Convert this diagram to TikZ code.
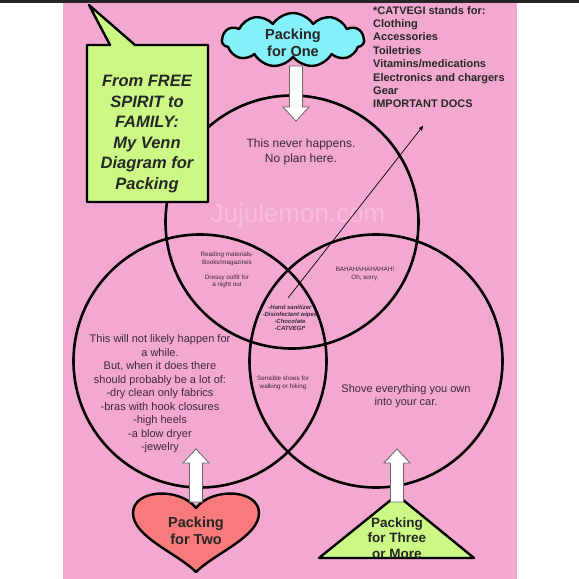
\documentclass[tikz,border=0pt]{standalone}
\usepackage{fontspec}
\setmainfont{Liberation Sans}
\usetikzlibrary{arrows,positioning,shapes.symbols}
\definecolor{rosa}{HTML}{F3A8D0}
\definecolor{lime}{HTML}{CCF986}
\definecolor{sky}{HTML}{84F0FA}
\definecolor{salmon}{HTML}{F87A7A}
\definecolor{ink}{HTML}{3A2838}
\definecolor{wmark}{HTML}{F7BCDB}
\tikzset{
    %Define standard arrow tip
    >=stealth',
    %Define style for the three circles
    venn/.style={
           circle,
           draw=black,
           line width=2.6pt,
           minimum size=253pt,
           inner sep=0pt},
    %Define style for texts inside the circles
    say/.style={
           align=center,
           text=ink,
           inner sep=0pt,
           font=\fontsize{11}{13.5}\selectfont},
    tiny/.style={
           say,
           font=\fontsize{6.3}{7.4}\selectfont},
    %Define style for the packing labels
    tag/.style={
           align=center,
           text=black!85,
           inner sep=0pt,
           font=\bfseries\fontsize{14.5}{17.5}\selectfont},
    %Define style for shape outlines
    rim/.style={
           draw=black,
           line width=2.4pt,
           line join=round},
    % Define block arrow style
    fat/.style={
           draw=black!60,
           line width=0.8pt,
           fill=white},
    % Define arrow style
    pil/.style={
           ->,
           line width=0.7pt}
}
\newcommand{\fatarrow}[4]{% x, tail, head base, tip
  \draw[fat] (#1-6.5,#2) -- (#1-6.5,#3) -- (#1-13,#3) -- (#1,#4)
    -- (#1+13,#3) -- (#1+6.5,#3) -- (#1+6.5,#2) -- cycle;}

\begin{document}
\begin{tikzpicture}[x=1pt, y=-1pt]
  \useasboundingbox (0,0) rectangle (579,579);
  \fill[white] (0,0) rectangle (579,579);
  \fill[rosa] (63,3) rectangle (517,579);
  \fill[black!85] (0,0) rectangle (579,3);

  % watermark
  \node[text=wmark, font=\fontsize{26}{28}\selectfont] (mark) at (298,216) {Jujulemon.com};

  % the three circles
  \node[venn] (one) at (292,222) {};
  \node[venn] (two) at (200,361) {};
  \node[venn] (three) at (376,361) {};

  % pointer to the footnote
  \coordinate (hub) at (288,298);
  \coordinate (note) at (423,126);
  \draw[pil] (hub) -- (note);

  % title callout
  \draw[rim, fill=lime] (87,45) -- (110,45) -- (89,5) -- (135,45) -- (208,45)
    -- (208,202) -- (87,202) -- cycle;
  \node[align=center, inner sep=0pt, text=black!85,
        font=\bfseries\itshape\fontsize{16.5}{20.6}\selectfont] (title) at (147,134)
    {From FREE\\SPIRIT to\\FAMILY:\\My Venn\\Diagram for\\Packing};

  % packing for one
  \node[cloud, cloud puffs=11, cloud puff arc=115, aspect=2.8, rim, fill=sky,
        minimum width=142pt, minimum height=54pt] (cloudone) at (293,40) {};
  \node[tag] (forone) at (293,43) {Packing\\for One};
  \fatarrow{296}{66}{107}{121}

  % packing for two
  \draw[rim, fill=salmon] (196,508) .. controls (180,487) and (133,489) .. (133,513)
    .. controls (133,537) and (177,553) .. (196,572)
    .. controls (215,553) and (259,537) .. (259,513)
    .. controls (259,489) and (212,487) .. (196,508) -- cycle;
  \node[tag] (fortwo) at (196,531) {Packing\\for Two};
  \fatarrow{196}{502}{463}{449}

  % packing for three or more
  \draw[rim, fill=lime] (319,558) -- (397,495) -- (474,558) -- cycle;
  \node[tag, font=\bfseries\fontsize{13.5}{15.5}\selectfont] (forthree) at (397,538)
    {Packing\\for Three\\or More};
  \fatarrow{397}{502}{463}{449}

  % footnote
  \node[anchor=west, align=left, inner sep=0pt, text=black!85,
        font=\bfseries\fontsize{11}{13.4}\selectfont] (key) at (373,57)
    {*CATVEGI stands for:\\Clothing\\Accessories\\Toiletries\\Vitamins/medications\\
     Electronics and chargers\\Gear\\IMPORTANT DOCS};

  % texts in the circles
  \node[say, font=\fontsize{12}{15}\selectfont] (never) at (301,152)
    {This never happens.\\No plan here.};
  \node[say] (notyet) at (160,394)
    {This will not likely happen for\\a while.\\But, when it does there\\
     should probably be a lot of:\\-dry clean only fabrics\\-bras with hook closures\\
     -high heels\\-a blow dryer\\-jewelry};
  \node[say] (shove) at (406,396) {Shove everything you own\\into your car.};
  \node[tiny] (reading) at (227,270)
    {Reading materials-\\Books/magazines\\[7.4pt]Dressy outfit for\\a night out};
  \node[tiny] (baha) at (365,274) {BAHAHAHAHAHAH!\\Oh, sorry.};
  \node[tiny] (shoes) at (283,383) {Sensible shoes for\\walking or hiking};
  \node[tiny, font=\bfseries\itshape\fontsize{6}{7.1}\selectfont] (all) at (290,318)
    {-Hand sanitizer\\-Disinfectant wipes\\-Chocolate\\-CATVEGI*};
\end{tikzpicture}
\end{document}
